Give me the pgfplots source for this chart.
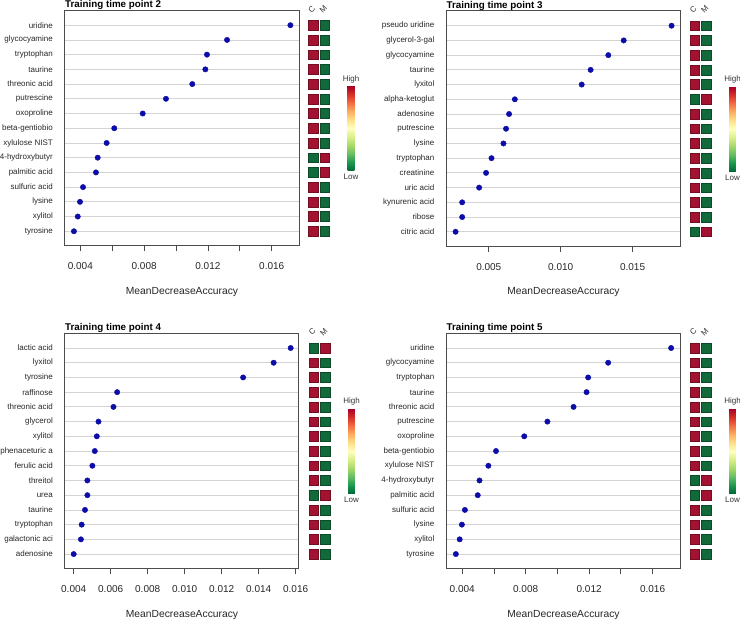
\documentclass[border=0pt]{standalone}
\usepackage{pgfplots}
\pgfplotsset{compat=1.18}
\usepackage{fontspec}
\setmainfont{Liberation Sans}
\definecolor{dotblue}{RGB}{12,12,168}
\definecolor{hred}{RGB}{163,18,48}
\definecolor{hgreen}{RGB}{18,105,58}
\pgfplotsset{
 colormap={rdylgn}{rgb255=(0,104,55) rgb255=(26,152,80) rgb255=(102,189,99) rgb255=(166,217,106) rgb255=(217,239,139) rgb255=(255,255,191) rgb255=(254,224,139) rgb255=(253,174,97) rgb255=(244,109,67) rgb255=(215,48,39) rgb255=(165,0,38)},
 every axis title shift=0pt,
 imp/.style={scale only axis, width=234pt, height=235.5pt, anchor=north west,
   ymin=0, ymax=16, ytick={1,...,15}, ytick align=inside, y tick style={draw=none},
   ymajorgrids, grid style={draw=black!17, line width=0.8pt},
   xtick pos=left, xtick align=outside, major tick length=5.5pt,
   x tick style={draw=black!70, line width=0.8pt},
   axis line style={draw=black!70, line width=1pt},
   scaled x ticks=false,
   yticklabel style={font=\fontsize{8}{9}\selectfont, text=black!85, anchor=east, inner sep=0pt, xshift=-12pt},
   xticklabel style={font=\fontsize{10}{12}\selectfont, text=black!85, anchor=north, inner sep=0pt, yshift=-11pt},
   xlabel={MeanDecreaseAccuracy},
   xlabel style={font=\fontsize{10.3}{12}\selectfont, text=black!85, at={(axis description cs:0.5,0)}, anchor=center, yshift=-46pt},
   title style={font=\fontsize{9.8}{11}\selectfont\bfseries, at={(axis description cs:0,1)}, anchor=base west, inner sep=0pt, yshift=2.5pt},
 },
 dots/.style={only marks, mark=*, mark size=2.7pt, mark options={fill=dotblue, draw=dotblue}},
 heat/.style={scale only axis, width=23pt, height=235.5pt, anchor=north west,
   xmin=0.5, xmax=2.5, ymin=0, ymax=16, clip=false,
   axis line style={draw=none}, ytick=\empty, xtick={1,2}, xticklabels={C,M},
   xtick pos=right, x tick style={draw=none}, major tick length=0pt,
   xticklabel style={font=\fontsize{8}{9}\selectfont, text=black!80, rotate=45, anchor=center, yshift=2pt, inner sep=0pt},
   point meta min=0, point meta max=1, colormap name=rdylgn, colorbar,
   colorbar style={at={(parent axis.north east)}, anchor=north west, xshift=8.7pt, yshift=-75.5pt,
     width=6.7pt, height=85pt, scale only axis, ytick=\empty, xtick=\empty,
     axis line style={draw=none},
     title={High}, xlabel={Low},
     title style={font=\fontsize{8}{9}\selectfont, text=black!80, at={(axis description cs:0.5,1)}, anchor=south, inner sep=0pt, yshift=3pt},
     xlabel style={font=\fontsize{8}{9}\selectfont, text=black!80, at={(axis description cs:0.5,0)}, anchor=north, inner sep=0pt, yshift=-3pt}},
 },
 hr/.style={only marks, mark=square*, mark size=4.9pt, mark options={fill=hred, draw=hred!70!black, line width=0.4pt}},
 hg/.style={only marks, mark=square*, mark size=4.9pt, mark options={fill=hgreen, draw=hgreen!70!black, line width=0.4pt}},
}
\begin{document}
\begin{tikzpicture}
\path[use as bounding box] (0,0) rectangle (740pt,620pt);
% ---------- Panel: time point 2 ----------
\begin{axis}[imp, at={(65pt,609.5pt)}, title={Training time point 2},
  xmin=0.00304, xmax=0.01771,
  xtick={0.004,0.006,0.008,0.010,0.012,0.014,0.016}, xticklabels={0.004,,0.008,,0.012,,0.016},
  yticklabels={tyrosine,xylitol,lysine,sulfuric acid,palmitic acid,4-hydroxybutyr,xylulose NIST,beta-gentiobio,oxoproline,putrescine,threonic acid,taurine,tryptophan,glycocyamine,uridine}]
\addplot[dots] coordinates {(0.00360,1) (0.00384,2) (0.00398,3) (0.00417,4) (0.00498,5) (0.00509,6) (0.00565,7) (0.00613,8) (0.00791,9) (0.00937,10) (0.01102,11) (0.01184,12) (0.01194,13) (0.01320,14) (0.01717,15)};
\end{axis}
\begin{axis}[heat, at={(307.45pt,609.5pt)}]
\addplot[hr] coordinates {(1,1) (1,2) (1,3) (1,4) (1,7) (1,8) (1,9) (1,10) (1,11) (1,12) (1,13) (1,14) (1,15) (2,5) (2,6)};
\addplot[hg] coordinates {(2,1) (2,2) (2,3) (2,4) (2,7) (2,8) (2,9) (2,10) (2,11) (2,12) (2,13) (2,14) (2,15) (1,5) (1,6)};
\end{axis}
% ---------- Panel: time point 3 ----------
\begin{axis}[imp, at={(446.5pt,609pt)}, title={Training time point 3},
  xmin=0.00206, xmax=0.01833,
  xtick={0.005,0.010,0.015}, xticklabels={0.005,0.010,0.015},
  yticklabels={citric acid,ribose,kynurenic acid,uric acid,creatinine,tryptophan,lysine,putrescine,adenosine,alpha-ketoglut,lyxitol,taurine,glycocyamine,glycerol-3-gal,pseudo uridine}]
\addplot[dots] coordinates {(0.00269,1) (0.00315,2) (0.00315,3) (0.00433,4) (0.00481,5) (0.00519,6) (0.00602,7) (0.00620,8) (0.00641,9) (0.00681,10) (0.01146,11) (0.01208,12) (0.01331,13) (0.01438,14) (0.01771,15)};
\end{axis}
\begin{axis}[heat, at={(688.95pt,609pt)}]
\addplot[hr] coordinates {(1,2) (1,3) (1,4) (1,5) (1,6) (1,7) (1,8) (1,9) (1,11) (1,12) (1,13) (1,14) (1,15) (2,1) (2,10)};
\addplot[hg] coordinates {(2,2) (2,3) (2,4) (2,5) (2,6) (2,7) (2,8) (2,9) (2,11) (2,12) (2,13) (2,14) (2,15) (1,1) (1,10)};
\end{axis}
% ---------- Panel: time point 4 ----------
\begin{axis}[imp, at={(65pt,286.7pt)}, title={Training time point 4},
  xmin=0.00353, xmax=0.01618,
  xtick={0.004,0.006,0.008,0.010,0.012,0.014,0.016}, xticklabels={0.004,0.006,0.008,0.010,0.012,0.014,0.016},
  yticklabels={adenosine,galactonic aci,tryptophan,taurine,urea,threitol,ferulic acid,phenaceturic a,xylitol,glycerol,threonic acid,raffinose,tyrosine,lyxitol,lactic acid}]
\addplot[dots] coordinates {(0.00400,1) (0.00439,2) (0.00443,3) (0.00461,4) (0.00474,5) (0.00474,6) (0.00501,7) (0.00514,8) (0.00525,9) (0.00534,10) (0.00615,11) (0.00635,12) (0.01316,13) (0.01481,14) (0.01573,15)};
\end{axis}
\begin{axis}[heat, at={(307.9pt,286.7pt)}]
\addplot[hr] coordinates {(1,1) (1,2) (1,3) (1,4) (1,6) (1,7) (1,8) (1,9) (1,10) (1,11) (1,12) (1,13) (1,14) (2,5) (2,15)};
\addplot[hg] coordinates {(2,1) (2,2) (2,3) (2,4) (2,6) (2,7) (2,8) (2,9) (2,10) (2,11) (2,12) (2,13) (2,14) (1,5) (1,15)};
\end{axis}
% ---------- Panel: time point 5 ----------
\begin{axis}[imp, at={(446.5pt,286.7pt)}, title={Training time point 5},
  xmin=0.00301, xmax=0.01776,
  xtick={0.004,0.006,0.008,0.010,0.012,0.014,0.016}, xticklabels={0.004,,0.008,,0.012,,0.016},
  yticklabels={tyrosine,xylitol,lysine,sulfuric acid,palmitic acid,4-hydroxybutyr,xylulose NIST,beta-gentiobio,oxoproline,putrescine,threonic acid,taurine,tryptophan,glycocyamine,uridine}]
\addplot[dots] coordinates {(0.00360,1) (0.00384,2) (0.00398,3) (0.00417,4) (0.00498,5) (0.00509,6) (0.00565,7) (0.00613,8) (0.00791,9) (0.00937,10) (0.01102,11) (0.01184,12) (0.01194,13) (0.01320,14) (0.01717,15)};
\end{axis}
\begin{axis}[heat, at={(688.95pt,286.7pt)}]
\addplot[hr] coordinates {(1,1) (1,2) (1,3) (1,4) (1,7) (1,8) (1,9) (1,10) (1,11) (1,12) (1,13) (1,14) (1,15) (2,5) (2,6)};
\addplot[hg] coordinates {(2,1) (2,2) (2,3) (2,4) (2,7) (2,8) (2,9) (2,10) (2,11) (2,12) (2,13) (2,14) (2,15) (1,5) (1,6)};
\end{axis}
\end{tikzpicture}
\end{document}
